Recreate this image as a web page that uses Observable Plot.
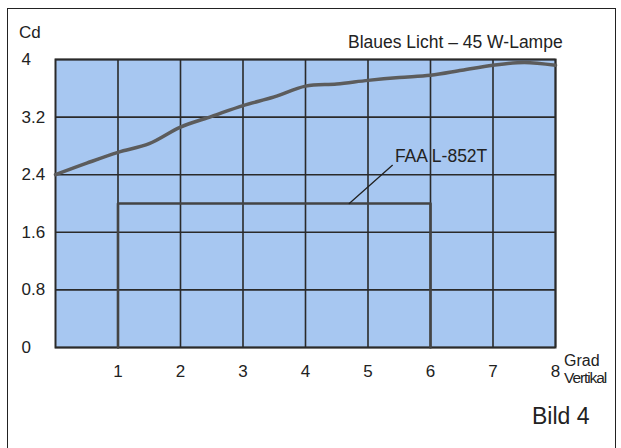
<!DOCTYPE html>
<html>
<head>
<meta charset="utf-8">
<script src="https://cdn.jsdelivr.net/npm/d3@7"></script>
<script src="https://cdn.jsdelivr.net/npm/@observablehq/plot@0.6"></script>
<style>
  html, body { margin: 0; padding: 0; background: #fff; }
  #wrap { position: relative; width: 621px; height: 448px; overflow: hidden; font-family: "Liberation Sans", Arial, sans-serif; color: #222; }
  #frame { position: absolute; left: 7px; top: 8px; width: 609px; height: 445px; border: 1.5px solid #222; box-sizing: border-box; pointer-events: none; }
  .lbl { position: absolute; white-space: nowrap; line-height: 1; }
  svg { position: absolute; left: 0; top: 0; }
</style>
</head>
<body>
<div id="wrap">
  <div id="chart"></div>
  <div id="frame"></div>
  <div class="lbl" style="left:19px; top:24px; font-size:17px;">Cd</div>
  <div class="lbl" style="left:348px; top:34px; font-size:17.5px;">Blaues Licht – 45 W-Lampe</div>
  <div class="lbl" style="left:564px; top:353px; font-size:16px;">Grad</div>
  <div class="lbl" style="left:564px; top:370px; font-size:15.5px; letter-spacing:-1.1px;">Vertikal</div>
  <div class="lbl" style="left:532px; top:405px; font-size:23px;">Bild 4</div>
</div>
<script>
// Curve: blue light, 45 W lamp (candela vs. vertical angle in degrees)
const angles = [0, 0.5, 1, 1.5, 2, 2.5, 3, 3.5, 4, 4.5, 5, 5.5, 6, 6.5, 7, 7.5, 8];
const candela = [2.40, 2.56, 2.71, 2.83, 3.06, 3.21, 3.36, 3.48, 3.63, 3.66, 3.71, 3.75, 3.78, 3.85, 3.92, 3.96, 3.92];

// FAA L-852T requirement box
const faaX = [1, 1, 6, 6];
const faaY = [0, 2.0, 2.0, 0];
const faaLabel = "FAA L-852T";
const faaLeader = [[4.70, 2.0], [5.39, 2.53]];
const faaLabelPos = [5.43, 2.66];

const xTicks = [1, 2, 3, 4, 5, 6, 7, 8];
const yTicks = [0, 0.8, 1.6, 2.4, 3.2, 4];

const curve = angles.map((a, i) => ({x: a, y: candela[i]}));
const faa = faaX.map((x, i) => ({x, y: faaY[i]}));

const chart = Plot.plot({
  width: 621,
  height: 448,
  marginLeft: 55,
  marginRight: 66,
  marginTop: 59,
  marginBottom: 101,
  style: {fontFamily: "Liberation Sans, Arial, sans-serif", fontSize: "17px", color: "#222", background: "transparent"},
  x: {domain: [0, 8], ticks: xTicks, tickSize: 0, tickPadding: 18, label: null, tickFormat: d => String(d)},
  y: {domain: [0, 4], ticks: yTicks, tickSize: 0, label: null, tickFormat: d => String(d)},
  marks: [
    Plot.frame({fill: "#a7c7f1", stroke: null}),
    Plot.ruleX(xTicks, {stroke: "#2a2a2a", strokeWidth: 1.6}),
    Plot.ruleY(yTicks, {stroke: "#2a2a2a", strokeWidth: 1.6}),
    Plot.frame({stroke: "#2a2a2a", strokeWidth: 2}),
    Plot.line(faa, {x: "x", y: "y", stroke: "#444", strokeWidth: 2.6}),
    Plot.line(faaLeader, {x: d => d[0], y: d => d[1], stroke: "#222", strokeWidth: 1.3}),
    Plot.text([faaLabel], {x: faaLabelPos[0], y: faaLabelPos[1], text: d => d, textAnchor: "start", fontSize: 17.5, fill: "#222"}),
    Plot.line(curve, {x: "x", y: "y", stroke: "#5c5c5c", strokeWidth: 3.5, curve: "catmull-rom"}),
    Plot.axisX({ticks: xTicks, tickSize: 0, tickPadding: 17, fontSize: 17, tickFormat: d => String(d)}),
    Plot.axisY({ticks: yTicks, tickSize: 0, textAnchor: "start", dx: -25, fontSize: 17, tickFormat: d => String(d)})
  ]
});
document.getElementById("chart").appendChild(chart);
</script>
</body>
</html>
